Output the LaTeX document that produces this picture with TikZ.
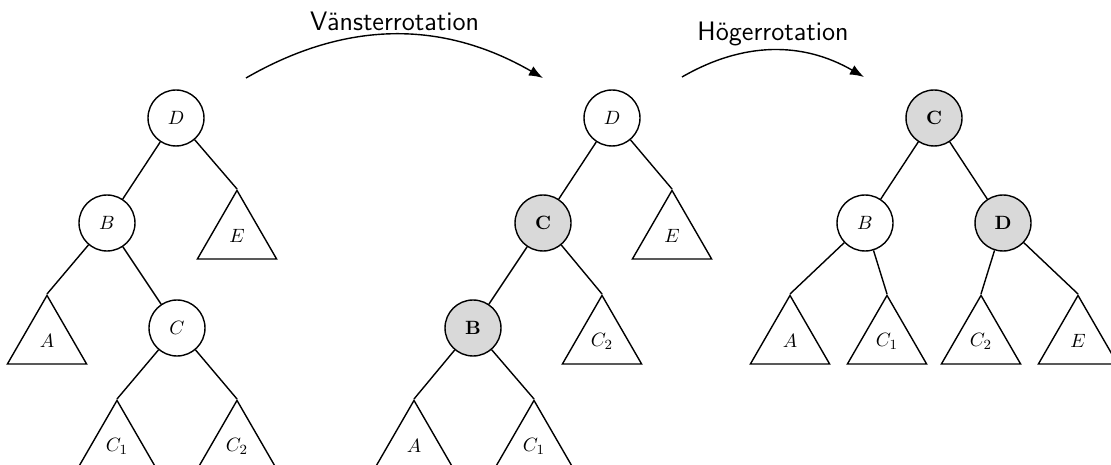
\documentclass[tikz,border=0pt]{standalone}
\usepackage{amsmath}
\usetikzlibrary{shapes.geometric, arrows.meta}
\tikzset{ vertex/.style={circle,draw,thick,minimum size=1.12cm,inner sep=0pt,font=\fontsize{10.95}{13}\selectfont},
  marked/.style={vertex,fill=gray!30},
  subtree/.style={regular polygon,regular polygon sides=3,draw,thick,minimum size=1.83cm,inner sep=0pt,anchor=corner 1,font=\fontsize{10.95}{13}\selectfont},
  rot/.style={thick,-{Latex[length=8pt]}},
  rotlabel/.style={font=\sffamily\fontsize{15.2}{18}\selectfont,inner sep=2pt}}

\begin{document}
\begin{tikzpicture}[x=0.02cm,y=-0.02cm]
  \useasboundingbox (0,0) rectangle (1111,465);

  % circles
  \foreach \pos/\name/\sty/\lbl in {{(176,118)/lD/vertex/D}, {(107,223)/lB/vertex/B}, {(177,328)/lC/vertex/C},
        {(612,118)/mD/vertex/D}, {(543,223)/mC/marked/\mathbf{C}}, {(473,328)/mB/marked/\mathbf{B}},
        {(934,118)/rC/marked/\mathbf{C}}, {(865,223)/rB/vertex/B}, {(1003,223)/rD/marked/\mathbf{D}}}
        \node[\sty] (\name) at \pos {$\lbl$};

  % subtrees
  \foreach \pos/\name/\lbl in {{(237,189)/lE/E}, {(47,294)/lA/A}, {(117,399)/lCa/C_1}, {(237,399)/lCb/C_2},
        {(672,189)/mE/E}, {(602,294)/mCb/C_2}, {(414,399)/mA/A}, {(534,399)/mCa/C_1},
        {(790,294)/rA/A}, {(887,294)/rCa/C_1}, {(981,294)/rCb/C_2}, {(1078,294)/rE/E}}
        \node[subtree] (\name) at \pos {$\lbl$};

   \foreach \from/\to in {lD/lB, lB/lC, lD/lE.corner 1, lB/lA.corner 1, lC/lCa.corner 1, lC/lCb.corner 1,
        mD/mC, mC/mB, mD/mE.corner 1, mC/mCb.corner 1, mB/mA.corner 1, mB/mCa.corner 1,
        rC/rB, rC/rD, rB/rA.corner 1, rB/rCa.corner 1, rD/rCb.corner 1, rD/rE.corner 1}
	\draw [thick] (\from) -- (\to);

  % rotations
  \coordinate (v1) at (246,78);
  \coordinate (v2) at (543,78);
  \coordinate (h1) at (682,77);
  \coordinate (h2) at (864,77);
  \draw[rot] (v1) to[bend left=30] node[midway,above,rotlabel] {Vänsterrotation} (v2);
  \draw[rot] (h1) to[bend left=30] node[midway,above,rotlabel] {Högerrotation} (h2);
\end{tikzpicture}
\end{document}
